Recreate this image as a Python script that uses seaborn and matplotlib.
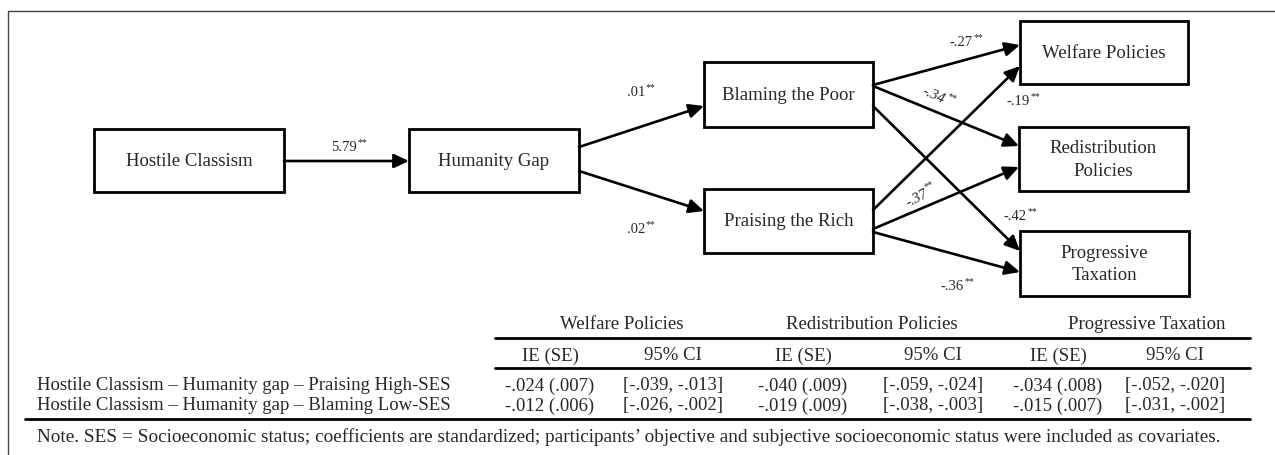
import matplotlib
matplotlib.use("Agg")
import matplotlib.pyplot as plt
import seaborn as sns
import numpy as np
from matplotlib.patches import Rectangle

# ---------------- data ----------------
node_names = ["Hostile Classism", "Humanity Gap", "Blaming the Poor", "Praising the Rich",
              "Welfare Policies", "Redistribution\nPolicies", "Progressive\nTaxation"]
path_from = [0, 1, 1, 2, 2, 2, 3, 3, 3]
path_to = [1, 2, 3, 4, 5, 6, 4, 5, 6]
path_coef = ["5.79", ".01", ".02", "-.27", "-.34", "-.42", "-.19", "-.37", "-.36"]
path_sig = ["**"] * 9

outcomes = ["Welfare Policies", "Redistribution Policies", "Progressive Taxation"]
sub_headers = ["IE (SE)", "95% CI"]
row_labels = ["Hostile Classism \u2013 Humanity gap \u2013 Praising High-SES",
              "Hostile Classism \u2013 Humanity gap \u2013 Blaming Low-SES"]
ie_values = [["-.024 (.007)", "-.040 (.009)", "-.034 (.008)"],
             ["-.012 (.006)", "-.019 (.009)", "-.015 (.007)"]]
ci_values = [["[-.039, -.013]", "[-.059, -.024]", "[-.052, -.020]"],
             ["[-.026, -.002]", "[-.038, -.003]", "[-.031, -.002]"]]
note_text = ("Note. SES = Socioeconomic status; coefficients are standardized; participants\u2019 "
             "objective and subjective socioeconomic status were included as covariates.")

# ---------------- layout (pixels) ----------------
W, H = 1275, 456
boxes = [(94, 130, 284, 193), (409, 130, 579, 193), (704, 63, 873, 128), (704, 190, 873, 254),
         (1020, 22, 1188, 85), (1019, 128, 1188, 192), (1020, 232, 1189, 297)]
arrows = [((284, 162), (409, 162)), ((579, 148), (704, 107)), ((579, 172), (704, 212)),
          ((873, 86), (1020, 46)), ((873, 87), (1019, 147)), ((873, 107), (1020, 252)),
          ((873, 211), (1020, 67)), ((873, 230), (1019, 168)), ((873, 233), (1020, 273))]
label_pos = [(357, 148), (645, 93), (645, 230), (973, 43), (944, 100), (1027, 217),
             (1030, 102), (927, 193), (964, 287)]
label_rot = [0, 0, 0, 0, -24, 0, 0, 28, 0]

sns.set_theme(style="white")
plt.rcParams["font.family"] = ["Liberation Serif", "DejaVu Serif"]

fig = plt.figure(figsize=(W / 100, H / 100), dpi=100)
ax = fig.add_axes([0, 0, 1, 1])
ax.set_xlim(0, W)
ax.set_ylim(H, 0)
ax.axis("off")

# outer frame (left and top)
ax.plot([8, 8, W], [H, 12, 12], color="#444444", lw=1.0, solid_capstyle="butt")

# boxes
for (x0, y0, x1, y1), name in zip(boxes, node_names):
    ax.add_patch(Rectangle((x0, y0), x1 - x0, y1 - y0, fill=False, ec="black", lw=2.0))
    ax.text((x0 + x1) / 2, (y0 + y1) / 2, name, ha="center", va="center",
            fontsize=13.5, linespacing=1.42)

# arrows
for (p0, p1) in arrows:
    ax.annotate("", xy=p1, xytext=p0,
                arrowprops=dict(arrowstyle="-|>,head_length=0.9,head_width=0.42",
                                color="black", lw=1.9, shrinkA=0, shrinkB=0,
                                mutation_scale=10))

# coefficient labels
for (x, y), c, s, r in zip(label_pos, path_coef, path_sig, label_rot):
    ax.text(x, y, c, ha="right", va="center", fontsize=10.5, rotation=r,
            rotation_mode="anchor", style="italic" if r != 0 else "normal")
    ang = np.deg2rad(r)
    dx, dy = 0.5, 4.0
    ox = dx * np.cos(ang) - dy * np.sin(ang)
    oy = dx * np.sin(ang) + dy * np.cos(ang)
    ax.annotate(s, (x, y), xytext=(ox, oy), textcoords="offset points",
                ha="left", va="center", fontsize=7, rotation=r, rotation_mode="anchor")

# ---------------- table ----------------
col_x = [550, 673, 803, 933, 1058, 1175]
group_x = [622, 872, 1147]
y_head, y_l1, y_sub, y_l2, y_rows, y_l3, y_note = 325, 339, 356, 369, [386, 406], 420, 437
fs = 13.5

for gx, g in zip(group_x, outcomes):
    ax.text(gx, y_head, g, ha="center", va="center", fontsize=fs)
ax.plot([495, 1250], [y_l1, y_l1], color="black", lw=2.0)
for i, cx in enumerate(col_x):
    ax.text(cx, y_sub, sub_headers[i % 2], ha="center", va="center", fontsize=fs)
ax.plot([495, 1250], [y_l2, y_l2], color="black", lw=2.0)
for r, ry in enumerate(y_rows):
    ax.text(37, ry, row_labels[r], ha="left", va="center", fontsize=fs)
    for k in range(3):
        ax.text(col_x[2 * k], ry, ie_values[r][k], ha="center", va="center", fontsize=fs)
        ax.text(col_x[2 * k + 1], ry, ci_values[r][k], ha="center", va="center", fontsize=fs)
ax.plot([25, 1250], [y_l3, y_l3], color="black", lw=2.0)
ax.text(37, y_note, note_text, ha="left", va="center", fontsize=13.9)

fig.savefig("out.png", dpi=100, facecolor="white")
